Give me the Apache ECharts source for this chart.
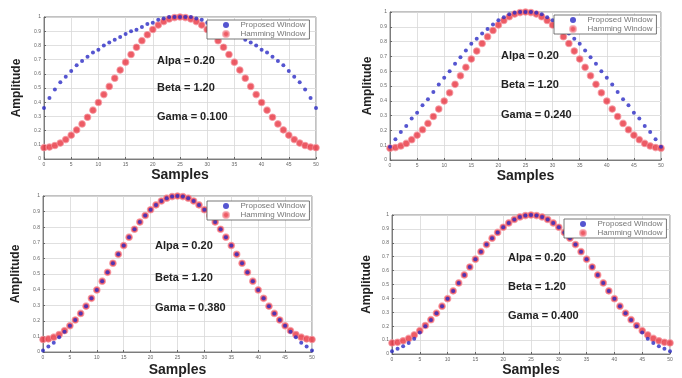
<!DOCTYPE html>
<html>
<head>
<meta charset="utf-8">
<script src="https://cdn.jsdelivr.net/npm/echarts@6/dist/echarts.min.js"></script>
<style>html,body{margin:0;padding:0;background:#fff;}#c{width:682px;height:378px;}</style>
</head>
<body>
<div id="c"></div>
<script>
// sample index n = 0..50
const samples = [0,1,2,3,4,5,6,7,8,9,10,11,12,13,14,15,16,17,18,19,20,21,22,23,24,25,26,27,28,29,30,31,32,33,34,35,36,37,38,39,40,41,42,43,44,45,46,47,48,49,50];
const xTicks = [0,5,10,15,20,25,30,35,40,45,50];
const yTicks = [0,0.1,0.2,0.3,0.4,0.5,0.6,0.7,0.8,0.9,1];

// Hamming window (red, same in all four panels)
const hamming = [0.08,0.084,0.095,0.112,0.137,0.168,0.205,0.247,0.294,0.344,0.398,0.454,0.511,0.569,0.626,0.682,0.736,0.787,0.833,0.875,0.912,0.943,0.968,0.986,0.996,1.0,0.996,0.986,0.968,0.943,0.912,0.875,0.833,0.787,0.736,0.682,0.626,0.569,0.511,0.454,0.398,0.344,0.294,0.247,0.205,0.168,0.137,0.112,0.095,0.084,0.08];

// Proposed window (blue), one per gamma value
const proposed100 = [0.36,0.43,0.49,0.54,0.58,0.62,0.66,0.69,0.72,0.75,0.77,0.80,0.82,0.84,0.86,0.88,0.90,0.91,0.93,0.95,0.96,0.98,0.99,1.00,1.00,1.00,1.00,1.00,0.99,0.98,0.96,0.95,0.93,0.91,0.90,0.88,0.86,0.84,0.82,0.80,0.77,0.75,0.72,0.69,0.66,0.62,0.58,0.54,0.49,0.43,0.36];
const proposed240 = [0.09,0.14,0.19,0.23,0.28,0.32,0.37,0.41,0.46,0.51,0.555,0.60,0.65,0.695,0.74,0.785,0.82,0.855,0.885,0.915,0.945,0.965,0.985,0.995,1.0,1.0,1.0,0.995,0.985,0.965,0.945,0.915,0.885,0.855,0.82,0.785,0.74,0.695,0.65,0.60,0.555,0.51,0.46,0.41,0.37,0.32,0.28,0.23,0.19,0.14,0.09];
const proposed380 = [0.01,0.035,0.06,0.095,0.13,0.168,0.205,0.247,0.294,0.344,0.398,0.454,0.511,0.569,0.626,0.682,0.736,0.787,0.833,0.875,0.912,0.943,0.968,0.986,0.996,1.0,0.996,0.986,0.968,0.943,0.912,0.875,0.833,0.787,0.736,0.682,0.626,0.569,0.511,0.454,0.398,0.344,0.294,0.247,0.205,0.168,0.13,0.095,0.06,0.035,0.01];
const proposed400 = [0.02,0.037,0.055,0.08,0.11,0.155,0.2,0.245,0.294,0.344,0.398,0.454,0.511,0.569,0.626,0.682,0.736,0.787,0.833,0.875,0.912,0.943,0.968,0.986,0.996,1.0,0.996,0.986,0.968,0.943,0.912,0.875,0.833,0.787,0.736,0.682,0.626,0.569,0.511,0.454,0.398,0.344,0.294,0.245,0.2,0.155,0.11,0.08,0.055,0.037,0.02];

const seriesNames = ['Proposed Window','Hamming Window'];
const alphaText = 'Alpa = 0.20';
const betaText = 'Beta = 1.20';
const gammaTexts = ['Gama = 0.100','Gama = 0.240','Gama = 0.380','Gama = 0.400'];

// layout (pixels)
const panels = [
  {grid:{left:44,top:17,width:272,height:142}, blue:proposed100, legend:{left:207,top:20}, txt:{x:157,y:[61,88,117]}, yGap:21, xGap:7},
  {grid:{left:390,top:12,width:271,height:148}, blue:proposed240, legend:{left:554,top:15}, txt:{x:501,y:[56,85,115]}, yGap:16, xGap:7},
  {grid:{left:43,top:196,width:269,height:161}, blue:proposed380, legend:{left:207,top:201}, txt:{x:155,y:[246,278,308]}, yGap:21, xGap:11},
  {grid:{left:392,top:215,width:278,height:143}, blue:proposed400, legend:{left:564,top:219}, txt:{x:508,y:[258,287,316]}, yGap:19, xGap:9}
];

const FONT = 'Liberation Sans';
const grids=[], xAxes=[], yAxes=[], series=[], legends=[], graphics=[];
panels.forEach((p,i)=>{
  grids.push(Object.assign({show:true,borderColor:'#666',borderWidth:0.8,backgroundColor:'#fff',containLabel:false}, p.grid));
  xAxes.push({type:'value',gridIndex:i,min:0,max:50,interval:5,
    name:'Samples',nameLocation:'middle',nameGap:p.xGap,
    nameTextStyle:{fontFamily:FONT,fontWeight:'bold',fontSize:14,color:'#222',verticalAlign:'top'},
    axisLine:{show:true,lineStyle:{color:'#666',width:0.8}},
    axisTick:{show:true,inside:true,length:2,lineStyle:{color:'#666'}},
    axisLabel:{fontSize:5,color:'#666',margin:3,fontFamily:FONT},
    splitLine:{show:true,lineStyle:{color:'#d8d8d8',width:0.8}}});
  yAxes.push({type:'value',gridIndex:i,min:0,max:1,interval:0.1,
    name:'Amplitude',nameLocation:'middle',nameGap:p.yGap,
    nameTextStyle:{fontFamily:FONT,fontWeight:'bold',fontSize:12,color:'#222'},
    axisLine:{show:true,lineStyle:{color:'#666',width:0.8}},
    axisTick:{show:true,inside:true,length:2,lineStyle:{color:'#666'}},
    axisLabel:{fontSize:5,color:'#666',margin:3,fontFamily:FONT,
      formatter:v=>{const t=yTicks.find(q=>Math.abs(q-v)<1e-6);return t===undefined?'':String(+t.toFixed(1));}},
    splitLine:{show:true,lineStyle:{color:'#d8d8d8',width:0.8}}});
  series.push({name:seriesNames[1],type:'scatter',xAxisIndex:i,yAxisIndex:i,symbol:'circle',symbolSize:6.5,
    itemStyle:{color:'#e8323e',borderColor:'rgba(245,150,160,0.9)',borderWidth:1.2},
    data:samples.map((s,k)=>[s,hamming[k]]),z:2,silent:true});
  series.push({name:seriesNames[0],type:'scatter',xAxisIndex:i,yAxisIndex:i,symbol:'circle',symbolSize:4,
    itemStyle:{color:'#2b2bc4'},
    data:samples.map((s,k)=>[s,p.blue[k]]),z:3,silent:true});
  legends.push({data:seriesNames,left:p.legend.left,top:p.legend.top,orient:'vertical',
    itemWidth:7,itemHeight:6,itemGap:1,padding:[1,4,1,15],
    backgroundColor:'#fff',borderColor:'#555',borderWidth:0.8,borderRadius:0,
    textStyle:{fontSize:8,color:'#777',fontFamily:FONT,padding:[0,0,0,6]},selectedMode:false});
  [alphaText,betaText,gammaTexts[i]].forEach((t,j)=>{
    graphics.push({type:'text',left:p.txt.x,top:p.txt.y[j]-6,z:10,
      style:{text:t,font:'bold 11px "'+FONT+'"',fill:'#222'}});
  });
});

const chart = echarts.init(document.getElementById('c'),null,{renderer:'canvas'});
chart.setOption({animation:false,backgroundColor:'#fff',grid:grids,xAxis:xAxes,yAxis:yAxes,series:series,legend:legends,graphic:graphics});
</script>
</body>
</html>
